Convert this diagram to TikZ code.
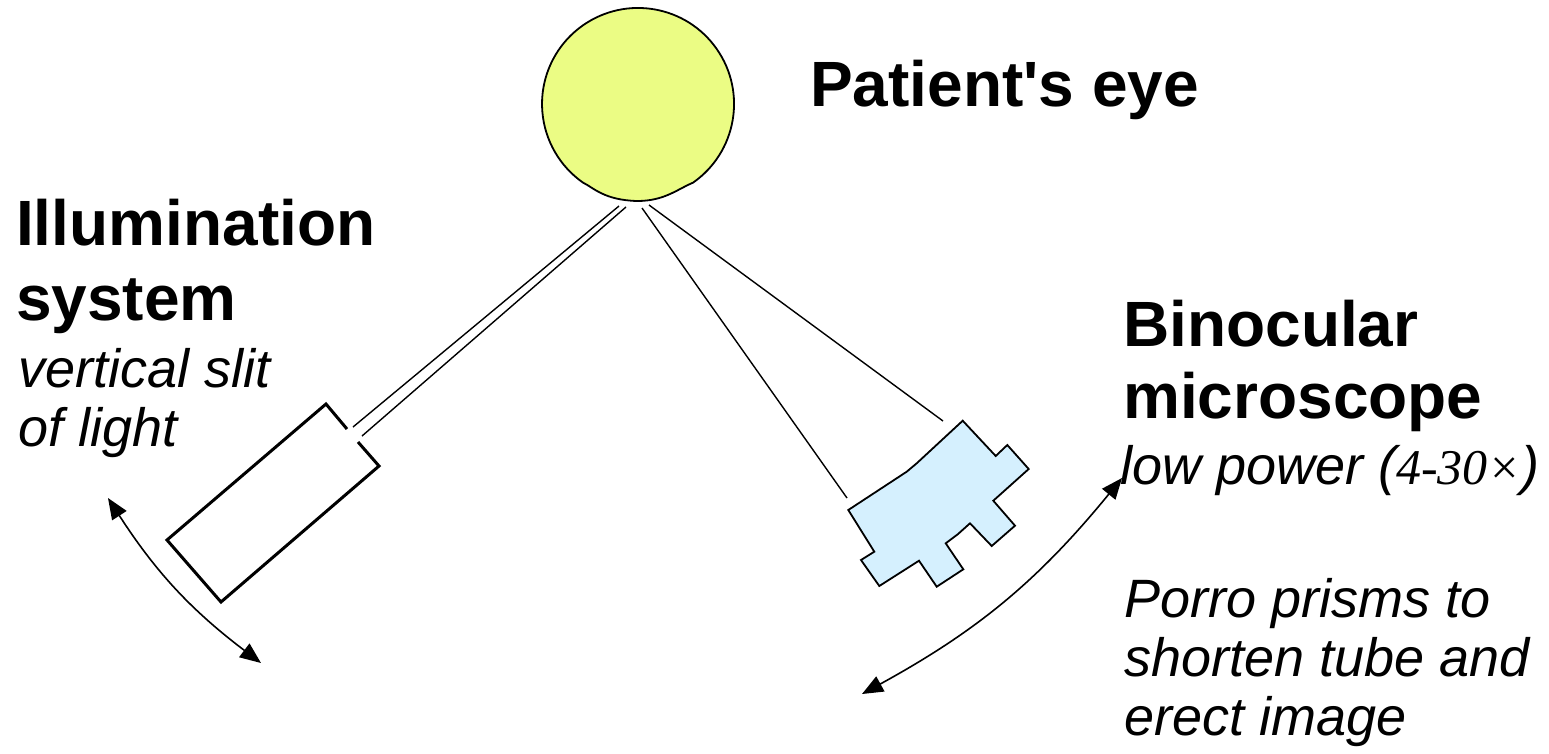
\documentclass[tikz,border=0pt]{standalone}
\usepackage{fontspec}
\setmainfont{Liberation Sans}
\newfontfamily\timesit{Liberation Serif}[ItalicFont={* Italic}]
\usetikzlibrary{arrows.meta}
\definecolor{eyefill}{RGB}{235,252,132}
\definecolor{scopefill}{RGB}{213,240,254}
\tikzset{
  head/.style={anchor=base west,inner sep=0pt,font=\fontsize{64}{70}\selectfont\bfseries},
  note/.style={anchor=base west,inner sep=0pt,font=\fontsize{54}{60}\selectfont\itshape},
  ray/.style={line width=1.4pt},
  swing/.style={line width=1.6pt,{Triangle[length=21pt,width=17pt]}-{Triangle[length=21pt,width=17pt]}},
}
\begin{document}
\begin{tikzpicture}[x=1pt,y=-1pt,line join=miter]
\useasboundingbox (0,0) rectangle (1549,753);

% patient's eye
\coordinate (eyec) at (638,104);
\filldraw[fill=eyefill,line width=1.8pt]
  (693.1,182.6) arc[start angle=55,end angle=-235,radius=96]
  .. controls (594,188) and (604,200) .. (637,201)
  .. controls (664,201) and (676,190) .. cycle;

% slit lamp housing
\coordinate (gapA) at (347,429);
\coordinate (gapB) at (358,442);
\draw[line width=3pt] (gapB) -- (379,466) -- (221,602) -- (167,540) -- (326,404) -- (gapA);

% beam of the slit
\coordinate (b1s) at (353,427); \coordinate (b1e) at (619,206);
\coordinate (b2s) at (362,436); \coordinate (b2e) at (626,207);
\draw[ray] (b1s) -- (b1e);
\draw[ray] (b2s) -- (b2e);

% microscope viewing lines
\coordinate (v1s) at (642,208); \coordinate (v1e) at (847,498);
\coordinate (v2s) at (649,205); \coordinate (v2e) at (943,421);
\draw[ray] (v1s) -- (v1e);
\draw[ray] (v2s) -- (v2e);

% microscope body
\filldraw[fill=scopefill,line width=1.8pt]
  (962.7,420.7) -- (995.7,456) -- (1007.3,445) -- (1028.7,469) -- (993.3,500.7)
  -- (1015,525.7) -- (991.7,546) -- (970,523.3) -- (957.7,534.3) -- (945.7,543.3)
  -- (963.3,569.3) -- (936.7,586.7) -- (919,560.7) -- (879.3,586) -- (861,560)
  -- (874.3,551.7) -- (848.3,510) -- (906.7,471.7) -- (916.7,463.3) -- cycle;

% swing arrows
\coordinate (la) at (108,498); \coordinate (lb) at (261,663);
\draw[swing] (la) to[bend right=10] (lb);
\coordinate (ra) at (862,694); \coordinate (rb) at (1122,478);
\draw[swing] (ra) to[bend right=11] (rb);

% labels
\node[head] (eyelab) at (810,106) {Patient\textquotesingle s eye};
\node[head] (ill1) at (16,245) {Illumination};
\node[head] (ill2) at (16,320) {system};
\node[note] (ill3) at (18,387) {vertical slit};
\node[note] (ill4) at (18,446) {of light};
\node[head] (mic1) at (1123,346) {Binocular};
\node[head] (mic2) at (1123,418) {microscope};
\node[note] (mic3) at (1120,484) {low power ({\timesit\itshape\fontsize{50}{60}\selectfont 4-30\texttimes})};
\node[note] (mic4) at (1124,617) {Porro prisms to};
\node[note] (mic5) at (1124,676) {shorten tube and};
\node[note] (mic6) at (1124,735) {erect image};
\end{tikzpicture}
\end{document}
